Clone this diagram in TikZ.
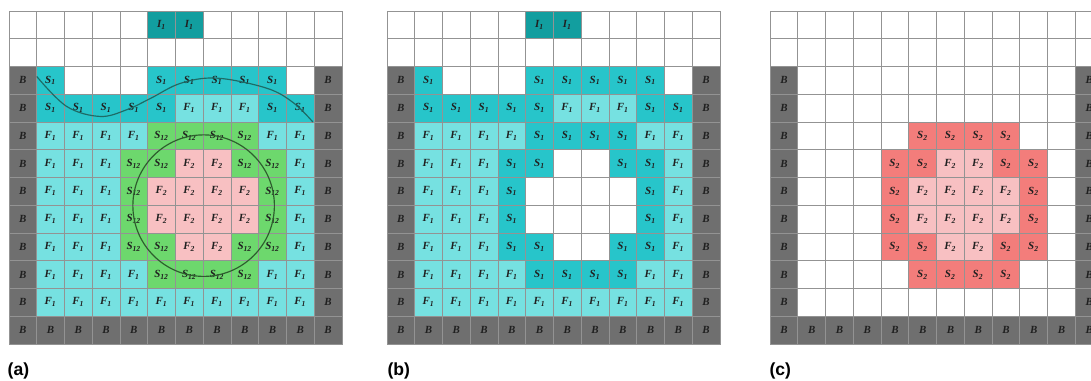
\documentclass[tikz,border=0pt]{standalone}
\usepackage{fontspec}
\setmainfont{Liberation Serif}
\setsansfont{Liberation Sans}
\usepackage{tikz}

\definecolor{cLine}{HTML}{939393}
\definecolor{cText}{HTML}{202020}
\definecolor{cB}{HTML}{6F6F6F}
\definecolor{cI}{HTML}{129E9F}
\definecolor{cS}{HTML}{27C5CA}
\definecolor{cF}{HTML}{76E1E1}
\definecolor{cG}{HTML}{6DD86D}
\definecolor{cP}{HTML}{F8C0C2}
\definecolor{cR}{HTML}{F37D7B}
\definecolor{cWave}{HTML}{1E6B66}
\definecolor{cRing}{HTML}{2E5E2E}

% one panel: name, left offset, rows of cell codes
\newcommand\gridpanel[3]{%
  \foreach \row [count=\r] in {#3}
    \foreach \code [count=\k] in \row
      \node (#1-\r-\k) at (#2+\k-0.5, 0.396+\r-0.5) [cellbox, cell \code];
}

\begin{document}
\begin{tikzpicture}[x=0.5cm, y=-0.5cm,
    cellbox/.style={draw=cLine, line width=0.4pt, minimum size=0.5cm, inner sep=0pt,
      text=cText, font=\fontsize{5.6}{6}\selectfont\bfseries\itshape},
    cell w/.style={fill=white, node contents={}},
    cell B/.style={fill=cB, node contents={B}},
    cell I/.style={fill=cI, node contents={I\textsubscript{1}}},
    cell S/.style={fill=cS, node contents={S\textsubscript{1}}},
    cell F/.style={fill=cF, node contents={F\textsubscript{1}}},
    cell G/.style={fill=cG, node contents={S\textsubscript{12}}},
    cell P/.style={fill=cP, node contents={F\textsubscript{2}}},
    cell R/.style={fill=cR, node contents={S\textsubscript{2}}},
    panel label/.style={anchor=west, inner sep=0pt, font=\fontsize{9}{10}\selectfont\sffamily\bfseries}]
  \useasboundingbox (0,0) rectangle (39.315,13.694);
  \clip (0,0) rectangle (39.315,13.694);

  % (a) both phases with interfaces
  \gridpanel{a}{0.324}{
    {w,w,w,w,w,I,I,w,w,w,w,w},
    {w,w,w,w,w,w,w,w,w,w,w,w},
    {B,S,w,w,w,S,S,S,S,S,w,B},
    {B,S,S,S,S,S,F,F,F,S,S,B},
    {B,F,F,F,F,G,G,G,G,F,F,B},
    {B,F,F,F,G,G,P,P,G,G,F,B},
    {B,F,F,F,G,P,P,P,P,G,F,B},
    {B,F,F,F,G,P,P,P,P,G,F,B},
    {B,F,F,F,G,G,P,P,G,G,F,B},
    {B,F,F,F,F,G,G,G,G,F,F,B},
    {B,F,F,F,F,F,F,F,F,F,F,B},
    {B,B,B,B,B,B,B,B,B,B,B,B}}
  \begin{scope}[shift={(0.324,0.396)}]
    \draw[cWave, line width=0.6pt] plot[smooth, tension=0.6] coordinates
      {(1.0,2.36) (2.08,3.44) (3.28,3.8) (4.24,3.56) (5.1,3.15) (6.2,2.6)
       (7.5,2.42) (9.28,2.78) (10.24,3.3) (10.95,4.0)};
  \end{scope}
  \draw[cRing, line width=0.6pt] (a-7-7.south east) circle[radius=1.275cm];
  \node[panel label] (lab-a) at (0.263,13.38) {(a)};

  % (b) phase 1 only
  \gridpanel{b}{13.946}{
    {w,w,w,w,w,I,I,w,w,w,w,w},
    {w,w,w,w,w,w,w,w,w,w,w,w},
    {B,S,w,w,w,S,S,S,S,S,w,B},
    {B,S,S,S,S,S,F,F,F,S,S,B},
    {B,F,F,F,F,S,S,S,S,F,F,B},
    {B,F,F,F,S,S,w,w,S,S,F,B},
    {B,F,F,F,S,w,w,w,w,S,F,B},
    {B,F,F,F,S,w,w,w,w,S,F,B},
    {B,F,F,F,S,S,w,w,S,S,F,B},
    {B,F,F,F,F,S,S,S,S,F,F,B},
    {B,F,F,F,F,F,F,F,F,F,F,B},
    {B,B,B,B,B,B,B,B,B,B,B,B}}
  \node[panel label] (lab-b) at (13.95,13.38) {(b)};

  % (c) phase 2 only
  \gridpanel{c}{27.748}{
    {w,w,w,w,w,w,w,w,w,w,w,w},
    {w,w,w,w,w,w,w,w,w,w,w,w},
    {B,w,w,w,w,w,w,w,w,w,w,B},
    {B,w,w,w,w,w,w,w,w,w,w,B},
    {B,w,w,w,w,R,R,R,R,w,w,B},
    {B,w,w,w,R,R,P,P,R,R,w,B},
    {B,w,w,w,R,P,P,P,P,R,w,B},
    {B,w,w,w,R,P,P,P,P,R,w,B},
    {B,w,w,w,R,R,P,P,R,R,w,B},
    {B,w,w,w,w,R,R,R,R,w,w,B},
    {B,w,w,w,w,w,w,w,w,w,w,B},
    {B,B,B,B,B,B,B,B,B,B,B,B}}
  \node[panel label] (lab-c) at (27.72,13.38) {(c)};
\end{tikzpicture}
\end{document}
